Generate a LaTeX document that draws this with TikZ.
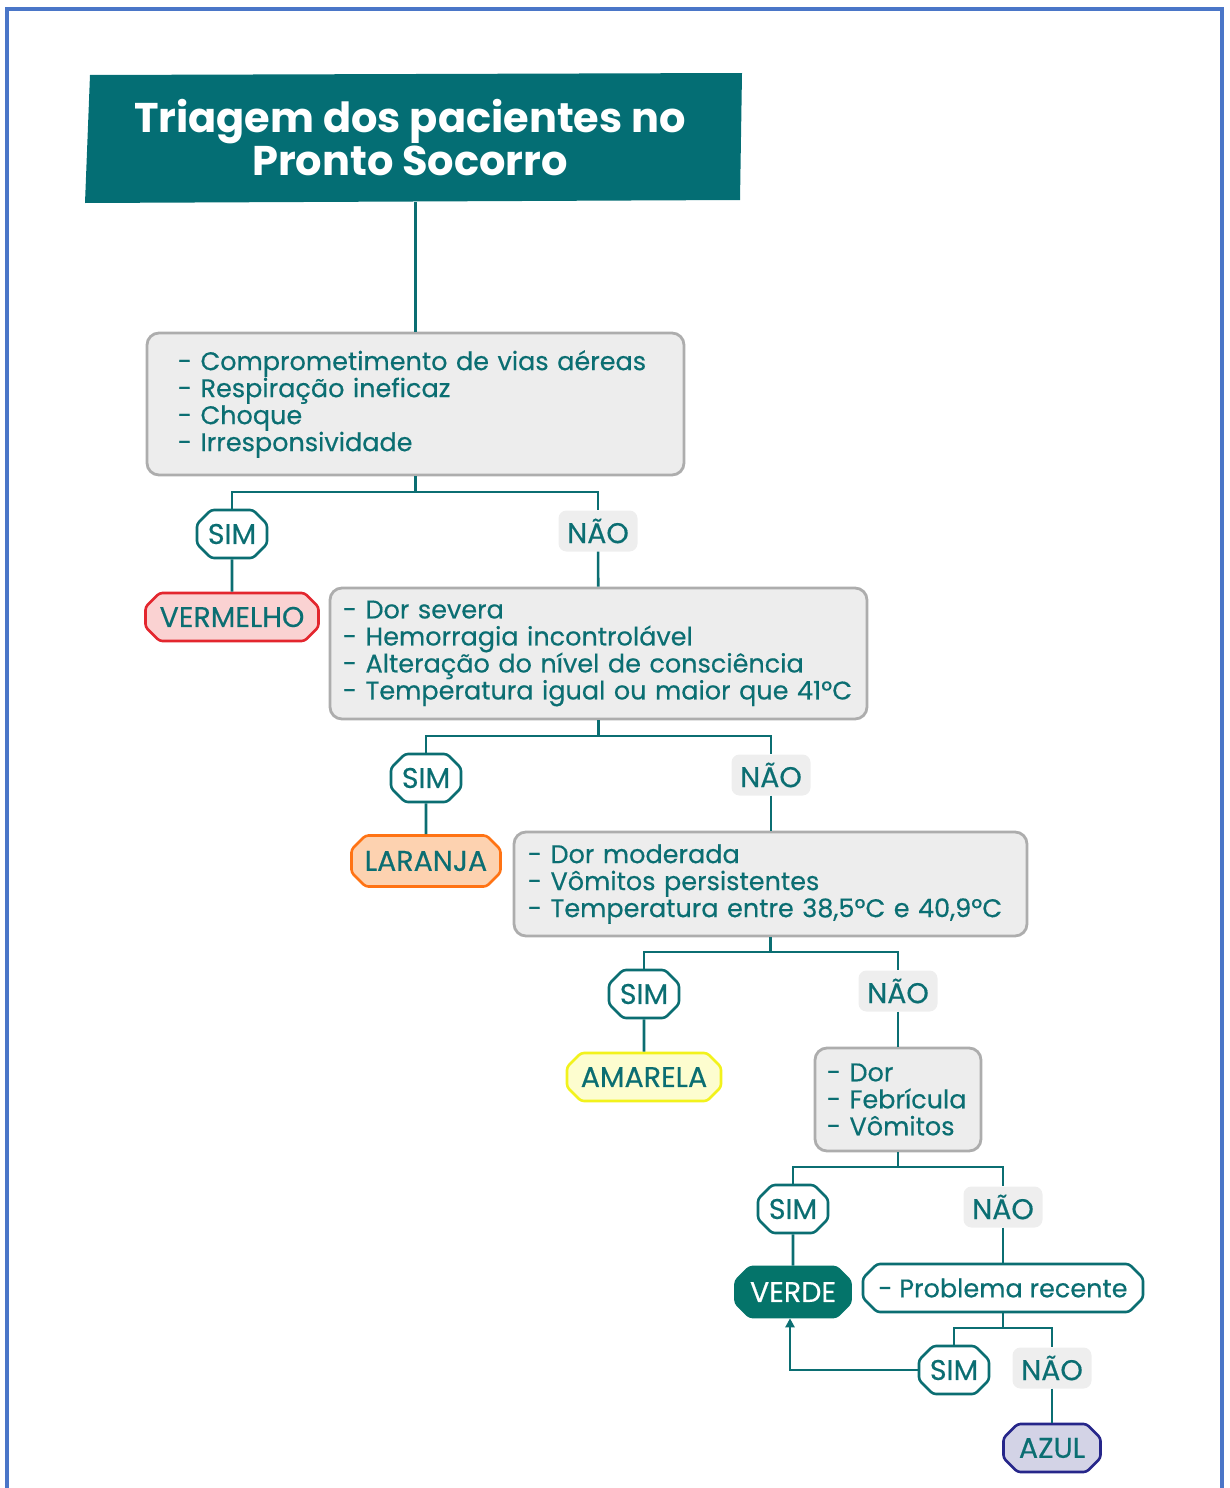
\documentclass[tikz,border=0pt]{standalone}
\usepackage{fontspec}
\setmainfont{Poppins}
\newfontfamily\medfont{Poppins}[FakeBold=0.4]
\usetikzlibrary{shapes.misc,arrows.meta}
\definecolor{tealtxt}{HTML}{0B6E72}
\definecolor{titlefill}{HTML}{046E74}
\definecolor{boxfill}{HTML}{EDEDED}
\definecolor{boxline}{HTML}{ADADAD}
\definecolor{naofill}{HTML}{EEEEEE}
\definecolor{redline}{HTML}{E3262E}
\definecolor{redfill}{HTML}{FAD2D2}
\definecolor{orline}{HTML}{FF7314}
\definecolor{orfill}{HTML}{FDD2B0}
\definecolor{yeline}{HTML}{F2F21C}
\definecolor{yefill}{HTML}{FDFDCF}
\definecolor{verdefill}{HTML}{04746A}
\definecolor{azline}{HTML}{26268A}
\definecolor{azfill}{HTML}{D3D3E6}
\definecolor{frameblue}{HTML}{4A76C8}
\begin{document}
\begin{tikzpicture}[x=1pt,y=-1pt,
  every node/.style={text=tealtxt, font=\medfont\fontsize{25.5}{27}\selectfont},
  lab/.style={font=\medfont\fontsize{28.5}{30}\selectfont},
  cond/.style={draw=boxline, fill=boxfill, line width=2.8pt, rounded corners=12pt, align=left, inner ysep=0pt},
  chamf/.style={chamfered rectangle, chamfered rectangle xsep=7pt, chamfered rectangle ysep=7pt, rounded corners=3pt, line width=2.6pt, inner sep=0pt},
  simbox/.style={chamf, lab, draw=tealtxt, fill=white, minimum width=70pt, minimum height=48pt},
  naobox/.style={lab, fill=naofill, rounded corners=8pt, minimum width=79pt, minimum height=41pt, inner sep=0pt},
  result/.style={chamf, lab, minimum height=48pt},
  conn/.style={draw=tealtxt, line width=2.6pt}
]
\useasboundingbox (0,0) rectangle (1230,1488);
\draw[frameblue, line width=4pt] (7,1500) -- (7,9) -- (1222,9) -- (1222,1500);

% title
\fill[titlefill] (90,75) -- (742,73) -- (740,200) -- (85,203) -- cycle;
\node[text=white, font=\bfseries\fontsize{41.5}{43}\selectfont, align=center, minimum height=128pt, inner sep=0pt] (title) at (410,138) {Triagem dos pacientes no\\Pronto Socorro};

% level 1
\node[cond, text width=475pt, inner xsep=31pt, minimum height=142pt] (b1) at (415.5,404)
  {- Comprometimento de vias aéreas\\- Respiração ineficaz\\- Choque\\- Irresponsividade};
\coordinate (j1) at (415.5,492);
\node[simbox] (s1) at (232,534) {SIM};
\node[naobox] (n1) at (598,531) {NÃO};
\node[result, draw=redline, fill=redfill, minimum width=173pt] (red) at (232,617) {VERMELHO};

% level 2
\node[cond, text width=511pt, inner xsep=13pt, minimum height=131pt] (b2) at (598.5,653.5)
  {- Dor severa\\- Hemorragia incontrolável\\- Alteração do nível de consciência\\- Temperatura igual ou maior que 41ºC};
\coordinate (j2) at (598.5,736);
\node[simbox] (s2) at (426,778) {SIM};
\node[naobox] (n2) at (771,775) {NÃO};
\node[result, draw=orline, fill=orfill, minimum width=149pt, minimum height=51pt] (orange) at (426,861) {LARANJA};

% level 3
\node[cond, text width=485pt, inner xsep=14pt, minimum height=104pt] (b3) at (770.5,884)
  {- Dor moderada\\- Vômitos persistentes\\- Temperatura entre 38,5ºC e 40,9ºC};
\coordinate (j3) at (770.5,952);
\node[simbox] (s3) at (644,994) {SIM};
\node[naobox] (n3) at (898,991) {NÃO};
\node[result, draw=yeline, fill=yefill, minimum width=154pt] (yellow) at (644,1077) {AMARELA};

% level 4
\node[cond, text width=142pt, inner xsep=12pt, minimum height=103pt] (b4) at (898,1099.5)
  {- Dor\\- Febrícula\\- Vômitos};
\coordinate (j4) at (898,1167);
\node[simbox] (s4) at (793,1209) {SIM};
\node[naobox] (n4) at (1003,1207) {NÃO};
\node[result, draw=verdefill, fill=verdefill, text=white, minimum width=115pt, minimum height=50pt] (green) at (793,1292) {VERDE};

% level 5
\node[chamf, draw=tealtxt, fill=white, minimum width=280pt, minimum height=48pt] (b5) at (1003,1288)
  {- Problema recente};
\coordinate (j5) at (1003,1328);
\node[simbox] (s5) at (954,1370) {SIM};
\node[naobox] (n5) at (1052,1368) {NÃO};
\node[result, draw=azline, fill=azfill, minimum width=97pt] (blue) at (1052,1448) {AZUL};

% connectors
\draw[conn] (title.south -| b1.north) -- (b1.north);
\draw[conn] (b1.south) -- (j1);
\draw[conn] (s1.north) |- (j1) -| (n1.north);
\draw[conn] (s1) -- (red);
\draw[conn] (n1) -- (b2);

\draw[conn] (b2.south) -- (j2);
\draw[conn] (s2.north) |- (j2) -| (n2.north);
\draw[conn] (s2) -- (orange);
\draw[conn] (n2) -- (n2 |- b3.north);

\draw[conn] (b3.south) -- (j3);
\draw[conn] (s3.north) |- (j3) -| (n3.north);
\draw[conn] (s3) -- (yellow);
\draw[conn] (n3) -- (b4);

\draw[conn] (b4.south) -- (j4);
\draw[conn] (s4.north) |- (j4) -| (n4.north);
\draw[conn] (s4) -- (green);
\draw[conn] (n4) -- (b5);

\draw[conn] (b5.south) -- (j5);
\draw[conn] (s5.north) |- (j5) -| (n5.north);
\draw[conn] (n5) -- (blue);
\draw[conn, -{Triangle[length=9pt,width=9pt]}] (s5.west) -| ([xshift=-3pt]green.south);
\end{tikzpicture}
\end{document}
